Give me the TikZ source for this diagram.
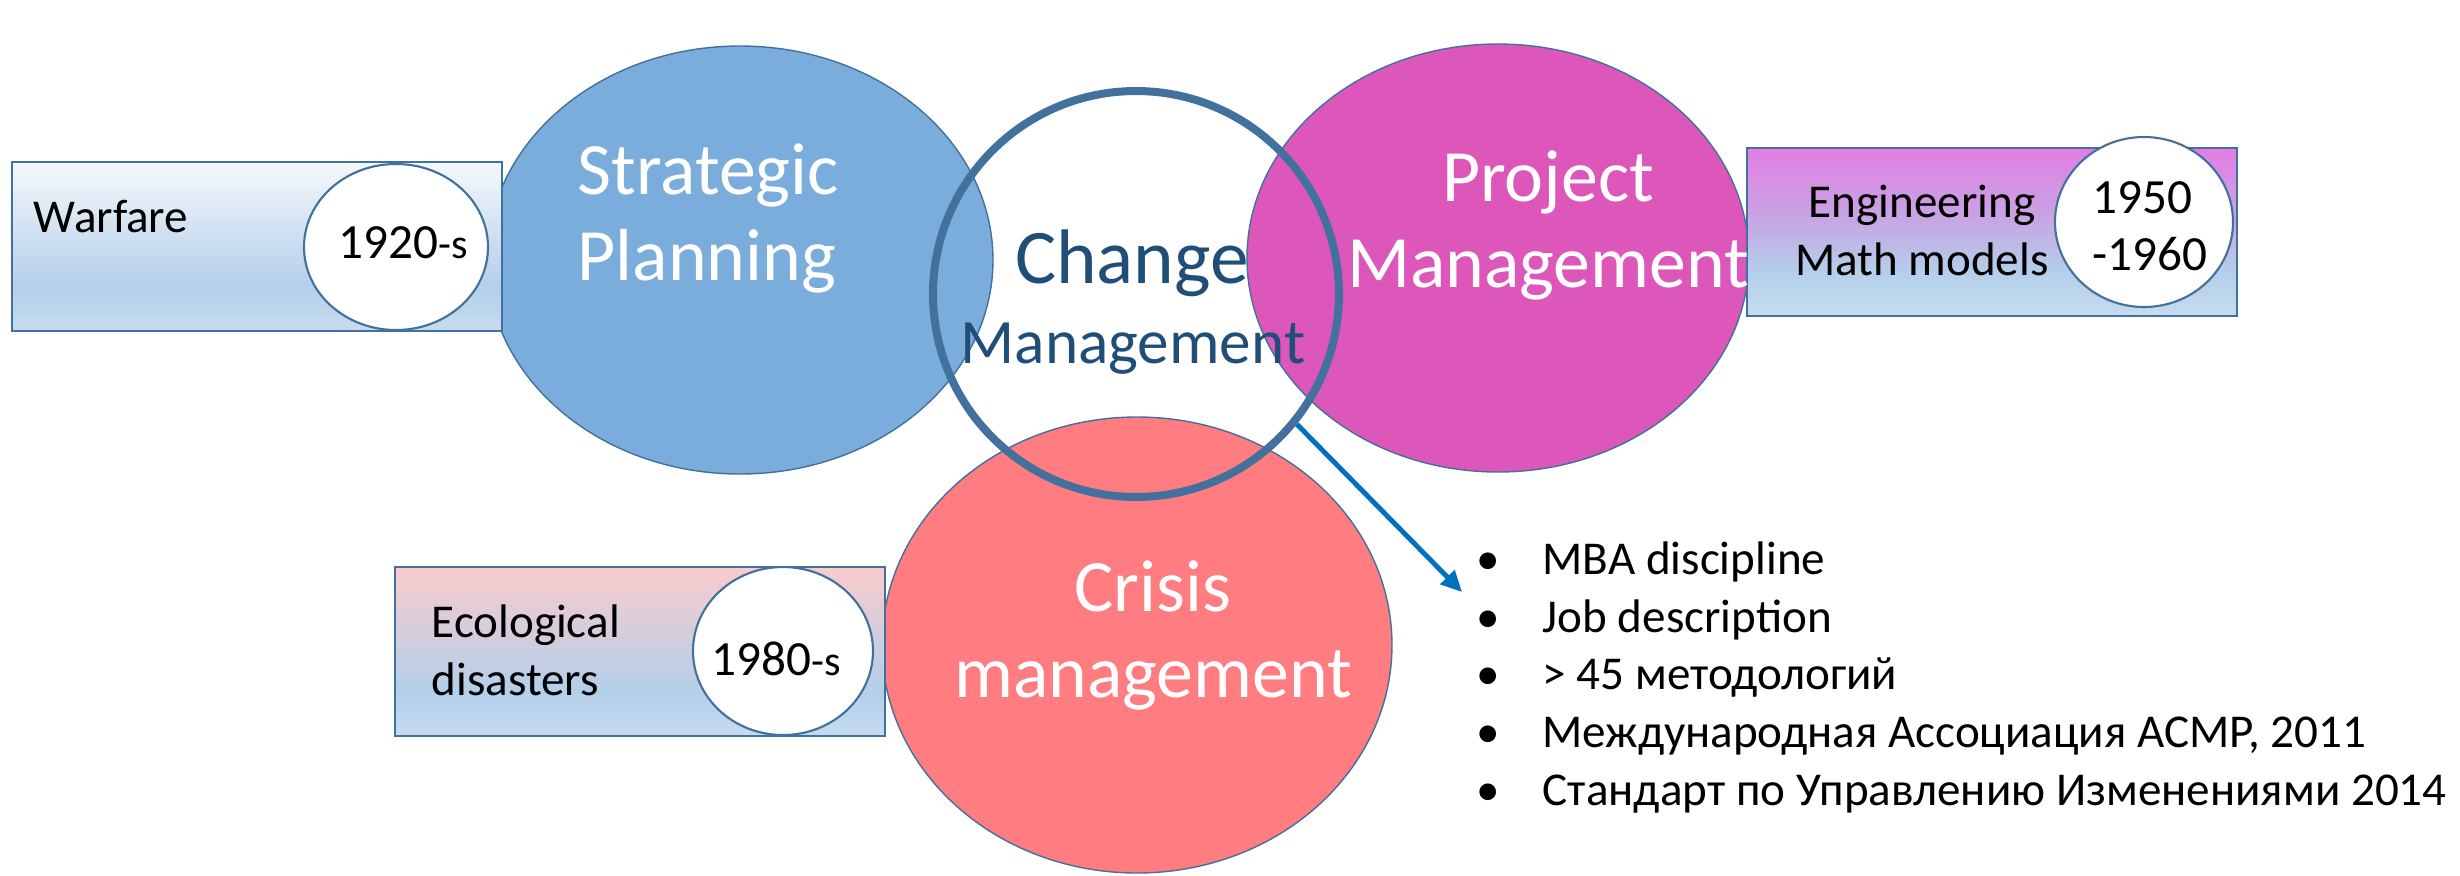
\documentclass[tikz,border=0pt]{standalone}
\usepackage{fontspec}
\setmainfont{Carlito}
\usetikzlibrary{arrows.meta}

\definecolor{stratblue}{HTML}{7AADDC}
\definecolor{projpink}{HTML}{DD57BB}
\definecolor{crisred}{HTML}{FF7C80}
\definecolor{edgeblue}{HTML}{41719C}
\definecolor{changeblue}{HTML}{1F4E79}
\definecolor{arrowblue}{HTML}{0070C0}
\definecolor{boxlow}{HTML}{C6DBEF}
\definecolor{boxmid}{HTML}{B3CFEA}
\definecolor{wartop}{HTML}{F5F8FC}
\definecolor{projtop}{HTML}{E27EE3}
\definecolor{projmid}{HTML}{C8A3E3}
\definecolor{ecotop}{HTML}{FACBCC}

% box fillings, 25bp = bottom edge, 75bp = top edge
\pgfdeclareverticalshading{warshade}{100bp}{color(0bp)=(boxlow); color(25bp)=(boxlow); color(38bp)=(boxmid); color(75bp)=(wartop); color(100bp)=(wartop)}
\pgfdeclareverticalshading{projshade}{100bp}{color(0bp)=(boxlow); color(25bp)=(boxlow); color(38bp)=(boxmid); color(55bp)=(projmid); color(75bp)=(projtop); color(100bp)=(projtop)}
\pgfdeclareverticalshading{ecoshade}{100bp}{color(0bp)=(boxlow); color(25bp)=(boxlow); color(38bp)=(boxmid); color(75bp)=(ecotop); color(100bp)=(ecotop)}

\newcommand{\listdot}{\makebox[18.8pt][l]{\textbullet}}
\newcommand{\yearsuffix}{{\fontsize{12pt}{14pt}\selectfont -s}}

\tikzset{
  bubble/.style={draw=edgeblue, line width=0.4pt},
  era/.style={draw=edgeblue, line width=0.6pt},
  year/.style={fill=white, draw=edgeblue, line width=0.6pt},
  bigtext/.style={white, font=\fontsize{21pt}{24.2pt}\selectfont},
  boxtext/.style={font=\fontsize{13.4pt}{16.5pt}\selectfont},
  yeartext/.style={font=\fontsize{14pt}{16.2pt}\selectfont},
}

\begin{document}
\begin{tikzpicture}[scale=0.1, every node/.style={inner sep=0pt}]
\useasboundingbox (0,0) rectangle (246,-87.5);
% the three fields
\fill [stratblue] (74.0,-26.0) ellipse (25.3 and 21.4);
\draw [bubble] (74.0,-26.0) ellipse (25.3 and 21.4);
\fill [projpink] (149.8,-25.8) ellipse (25.1 and 21.4);
\draw [bubble] (149.8,-25.8) ellipse (25.1 and 21.4);
\fill [crisred] (113.7,-64.5) ellipse (25.5 and 22.8);
\draw [bubble] (113.7,-64.5) ellipse (25.5 and 22.8);
% where they came from
\shadedraw [era, shading=warshade] (1.2,-16.2) rectangle (50.2,-33.1);
\draw [year] (39.6,-24.7) ellipse (9.2 and 8.3);
\shadedraw [era, shading=projshade] (174.7,-14.8) rectangle (223.7,-31.6);
\draw [year] (214.4,-22.2) ellipse (8.9 and 8.5);
\shadedraw [era, shading=ecoshade] (39.5,-56.7) rectangle (88.5,-73.6);
\draw [year] (78.3,-65.1) ellipse (9.0 and 8.4);
% change management ring
\node [circle, draw=edgeblue, line width=0.08cm, minimum size=4.06cm] (change) at (113.6,-29.4) {};
% labels (multi-line: base = last line)
\node [bigtext, anchor=base west, align=left] (strat) at (57.7,-28.0) {Strategic\\Planning};
\node [bigtext, anchor=base, align=center] (proj) at (154.8,-28.7) {Project\\Management};
\node [bigtext, anchor=base, align=center] (cris) at (115.3,-69.7) {Crisis\\management};
\node [changeblue, anchor=base, font=\fontsize{22pt}{26pt}\selectfont] (chg) at (113.2,-28.3) {Change};
\node [changeblue, anchor=base, font=\fontsize{18pt}{22pt}\selectfont] (mgmt) at (113.3,-36.3) {Management};
\node [boxtext, anchor=base west] (war) at (3.3,-23.2) {Warfare};
\node [yeartext, anchor=base] (y1920) at (40.3,-25.8) {1920\yearsuffix};
\node [boxtext, anchor=base, align=center] (eng) at (192.2,-27.5) {Engineering\\Math models};
\node [yeartext, anchor=base west, align=left] (y1950) at (209.2,-27.0) {1950\\-1960};
\node [boxtext, anchor=base west, align=left] (eco) at (43.1,-69.5) {Ecological\\disasters};
\node [yeartext, anchor=base] (y1980) at (77.6,-67.5) {1980\yearsuffix};
% what change management is today
\node [anchor=base west, align=left, font=\fontsize{13.4pt}{16.4pt}\selectfont] (facts) at (147.6,-80.5)
  {\listdot MBA discipline\\
   \listdot Job description\\
   \listdot > 45 методологий\\
   \listdot Международная Ассоциация ACMP, 2011\\
   \listdot Стандарт по Управлению Изменениями 2014};
\coordinate (factstip) at (146.2,-59.2);
\draw [arrowblue, line width=1.4pt, -{Triangle[length=6pt,width=5.5pt]}] (change.-39) -- (factstip);
\end{tikzpicture}
\end{document}
